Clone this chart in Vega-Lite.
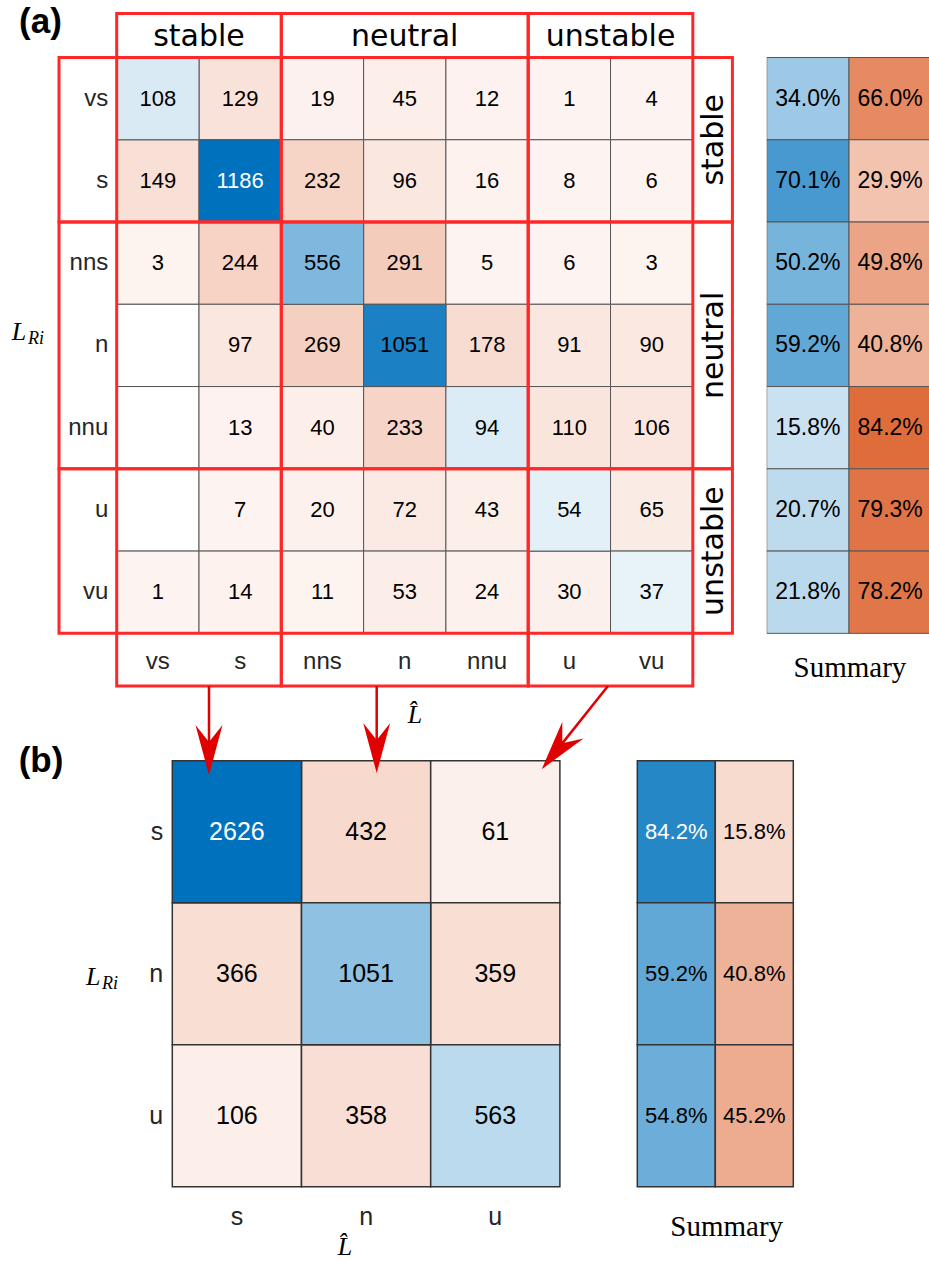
{
"$schema": "https://vega.github.io/schema/vega-lite/v6.json",
"padding": 0,
"background": "white",
"bounds": "flush",
"align": "none",
"columns": 2,
"spacing": {"row": 0, "column": 21.7},
"config": {"view": {"stroke": null}},
"datasets": {
"cellsA": [
{"i":0,"j":0,"count":108},{"i":0,"j":1,"count":129},{"i":0,"j":2,"count":19},{"i":0,"j":3,"count":45},{"i":0,"j":4,"count":12},{"i":0,"j":5,"count":1},{"i":0,"j":6,"count":4},
{"i":1,"j":0,"count":149},{"i":1,"j":1,"count":1186},{"i":1,"j":2,"count":232},{"i":1,"j":3,"count":96},{"i":1,"j":4,"count":16},{"i":1,"j":5,"count":8},{"i":1,"j":6,"count":6},
{"i":2,"j":0,"count":3},{"i":2,"j":1,"count":244},{"i":2,"j":2,"count":556},{"i":2,"j":3,"count":291},{"i":2,"j":4,"count":5},{"i":2,"j":5,"count":6},{"i":2,"j":6,"count":3},
{"i":3,"j":0,"count":0},{"i":3,"j":1,"count":97},{"i":3,"j":2,"count":269},{"i":3,"j":3,"count":1051},{"i":3,"j":4,"count":178},{"i":3,"j":5,"count":91},{"i":3,"j":6,"count":90},
{"i":4,"j":0,"count":0},{"i":4,"j":1,"count":13},{"i":4,"j":2,"count":40},{"i":4,"j":3,"count":233},{"i":4,"j":4,"count":94},{"i":4,"j":5,"count":110},{"i":4,"j":6,"count":106},
{"i":5,"j":0,"count":0},{"i":5,"j":1,"count":7},{"i":5,"j":2,"count":20},{"i":5,"j":3,"count":72},{"i":5,"j":4,"count":43},{"i":5,"j":5,"count":54},{"i":5,"j":6,"count":65},
{"i":6,"j":0,"count":1},{"i":6,"j":1,"count":14},{"i":6,"j":2,"count":11},{"i":6,"j":3,"count":53},{"i":6,"j":4,"count":24},{"i":6,"j":5,"count":30},{"i":6,"j":6,"count":37}
],
"sumA": [
{"i":0,"k":0,"p":0.340},{"i":0,"k":1,"p":0.660},
{"i":1,"k":0,"p":0.701},{"i":1,"k":1,"p":0.299},
{"i":2,"k":0,"p":0.502},{"i":2,"k":1,"p":0.498},
{"i":3,"k":0,"p":0.592},{"i":3,"k":1,"p":0.408},
{"i":4,"k":0,"p":0.158},{"i":4,"k":1,"p":0.842},
{"i":5,"k":0,"p":0.207},{"i":5,"k":1,"p":0.793},
{"i":6,"k":0,"p":0.218},{"i":6,"k":1,"p":0.782}
],
"labA": [{"lab":"vs","k":0},{"lab":"s","k":1},{"lab":"nns","k":2},{"lab":"n","k":3},{"lab":"nnu","k":4},{"lab":"u","k":5},{"lab":"vu","k":6}],
"groups": [{"g":"stable","lo":-0.5,"hi":1.5,"mid":0.5},{"g":"neutral","lo":1.5,"hi":4.5,"mid":3},{"g":"unstable","lo":4.5,"hi":6.5,"mid":5.5}],
"cellsB": [
{"i":0,"j":0,"count":2626},{"i":0,"j":1,"count":432},{"i":0,"j":2,"count":61},
{"i":1,"j":0,"count":366},{"i":1,"j":1,"count":1051},{"i":1,"j":2,"count":359},
{"i":2,"j":0,"count":106},{"i":2,"j":1,"count":358},{"i":2,"j":2,"count":563}
],
"sumB": [
{"i":0,"k":0,"p":0.842},{"i":0,"k":1,"p":0.158},
{"i":1,"k":0,"p":0.592},{"i":1,"k":1,"p":0.408},
{"i":2,"k":0,"p":0.548},{"i":2,"k":1,"p":0.452}
],
"labB": [{"lab":"s","k":0},{"lab":"n","k":1},{"lab":"u","k":2}],
"arrows": [
{"sx":-0.216,"sy":-1.026,"hx":-0.216,"hy":-0.575,"ang":0},
{"sx":1.082,"sy":-1.026,"hx":1.082,"hy":-0.589,"ang":0},
{"sx":2.872,"sy":-1.026,"hx":2.48,"hy":-0.578,"ang":38.5}
]
},
"concat": [
{"width": 745, "height": 686,
 "resolve": {"scale": {"fill": "independent"}},
 "layer": [
  {"data": {"name": "cellsA"}, "transform": [{"filter": "datum.i != datum.j"}],
   "mark": {"type": "rect", "width": 82.3, "height": 82.26, "stroke": "#555555", "strokeWidth": 1},
   "encoding": {
    "x": {"field": "j", "type": "quantitative", "scale": {"domain": [-1.918, 7.134], "nice": false, "zero": false}, "axis": null},
    "y": {"field": "i", "type": "quantitative", "scale": {"domain": [-1.199, 7.14], "nice": false, "zero": false, "reverse": true}, "axis": null},
    "fill": {"condition": {"test": "datum.count == 0", "value": "#ffffff"}, "field": "count", "type": "quantitative", "scale": {"domain": [0, 1186], "range": ["#fdf4f1", "#d95319"], "interpolate": "rgb"}, "legend": null}}},
  {"data": {"name": "cellsA"}, "transform": [{"filter": "datum.i == datum.j"}],
   "mark": {"type": "rect", "width": 82.3, "height": 82.26, "stroke": "#555555", "strokeWidth": 1},
   "encoding": {
    "x": {"field": "j", "type": "quantitative", "scale": {"domain": [-1.918, 7.134], "nice": false, "zero": false}, "axis": null},
    "y": {"field": "i", "type": "quantitative", "scale": {"domain": [-1.199, 7.14], "nice": false, "zero": false, "reverse": true}, "axis": null},
    "fill": {"field": "count", "type": "quantitative", "scale": {"domain": [0, 1186], "range": ["#eff6fb", "#0072bd"], "interpolate": "rgb"}, "legend": null}}},
  {"data": {"name": "cellsA"}, "transform": [{"filter": "datum.count > 0"}],
   "mark": {"type": "text", "font": "Liberation Sans", "fontSize": 22, "align": "center", "baseline": "middle"},
   "encoding": {
    "x": {"field": "j", "type": "quantitative", "scale": {"domain": [-1.918, 7.134], "nice": false, "zero": false}, "axis": null},
    "y": {"field": "i", "type": "quantitative", "scale": {"domain": [-1.199, 7.14], "nice": false, "zero": false, "reverse": true}, "axis": null},
    "text": {"field": "count", "type": "quantitative", "format": "d"},
    "color": {"condition": {"test": "datum.count >= 1100", "value": "#ffffff"}, "value": "#000000"}}},
  {"data": {"name": "labA"},
   "mark": {"type": "text", "font": "Liberation Sans", "fontSize": 24, "align": "right", "baseline": "middle", "color": "#262626"},
   "encoding": {
    "x": {"datum": -0.602, "type": "quantitative", "scale": {"domain": [-1.918, 7.134], "nice": false, "zero": false}, "axis": null},
    "y": {"field": "k", "type": "quantitative", "scale": {"domain": [-1.199, 7.14], "nice": false, "zero": false, "reverse": true}, "axis": null},
    "text": {"field": "lab"}}},
  {"data": {"name": "labA"},
   "mark": {"type": "text", "font": "Liberation Sans", "fontSize": 24, "align": "center", "baseline": "middle", "color": "#262626"},
   "encoding": {
    "x": {"field": "k", "type": "quantitative", "scale": {"domain": [-1.918, 7.134], "nice": false, "zero": false}, "axis": null},
    "y": {"datum": 6.845, "type": "quantitative", "scale": {"domain": [-1.199, 7.14], "nice": false, "zero": false, "reverse": true}, "axis": null},
    "text": {"field": "lab"}}},
  {"data": {"name": "groups"},
   "mark": {"type": "rect", "filled": false, "stroke": "#ff2828", "strokeWidth": 3},
   "encoding": {
    "x": {"field": "lo", "type": "quantitative", "scale": {"domain": [-1.918, 7.134], "nice": false, "zero": false}, "axis": null},
    "x2": {"field": "hi"},
    "y": {"datum": -1.035, "type": "quantitative", "scale": {"domain": [-1.199, 7.14], "nice": false, "zero": false, "reverse": true}, "axis": null},
    "y2": {"datum": 7.14}}},
  {"data": {"name": "groups"},
   "mark": {"type": "rect", "filled": false, "stroke": "#ff2828", "strokeWidth": 3},
   "encoding": {
    "x": {"datum": -1.201, "type": "quantitative", "scale": {"domain": [-1.918, 7.134], "nice": false, "zero": false}, "axis": null},
    "x2": {"datum": 6.981},
    "y": {"field": "lo", "type": "quantitative", "scale": {"domain": [-1.199, 7.14], "nice": false, "zero": false, "reverse": true}, "axis": null},
    "y2": {"field": "hi"}}},
  {"data": {"name": "groups"},
   "mark": {"type": "text", "font": "DejaVu Sans", "fontSize": 30, "align": "center", "baseline": "alphabetic", "color": "#000000"},
   "encoding": {
    "x": {"field": "mid", "type": "quantitative", "scale": {"domain": [-1.918, 7.134], "nice": false, "zero": false}, "axis": null},
    "y": {"datum": -0.64, "type": "quantitative", "scale": {"domain": [-1.199, 7.14], "nice": false, "zero": false, "reverse": true}, "axis": null},
    "text": {"field": "g"}}},
  {"data": {"name": "groups"},
   "mark": {"type": "text", "font": "DejaVu Sans", "fontSize": 30, "align": "center", "baseline": "alphabetic", "angle": 270, "color": "#000000"},
   "encoding": {
    "x": {"datum": 6.87, "type": "quantitative", "scale": {"domain": [-1.918, 7.134], "nice": false, "zero": false}, "axis": null},
    "y": {"field": "mid", "type": "quantitative", "scale": {"domain": [-1.199, 7.14], "nice": false, "zero": false, "reverse": true}, "axis": null},
    "text": {"field": "g"}}},
  {"data": {"values": [{"t": "(a)"}]},
   "mark": {"type": "text", "font": "Liberation Sans", "fontWeight": "bold", "fontSize": 35, "align": "center", "baseline": "alphabetic", "color": "#000000"},
   "encoding": {
    "x": {"datum": -1.426, "type": "quantitative", "scale": {"domain": [-1.918, 7.134], "nice": false, "zero": false}, "axis": null},
    "y": {"datum": -0.798, "type": "quantitative", "scale": {"domain": [-1.199, 7.14], "nice": false, "zero": false, "reverse": true}, "axis": null},
    "text": {"field": "t"}}},
  {"data": {"values": [{"t": "L"}]},
   "mark": {"type": "text", "font": "Liberation Serif", "fontStyle": "italic", "fontSize": 26, "align": "left", "baseline": "alphabetic", "color": "#000000"},
   "encoding": {
    "x": {"datum": -1.776, "type": "quantitative", "scale": {"domain": [-1.918, 7.134], "nice": false, "zero": false}, "axis": null},
    "y": {"datum": 2.934, "type": "quantitative", "scale": {"domain": [-1.199, 7.14], "nice": false, "zero": false, "reverse": true}, "axis": null},
    "text": {"field": "t"}}},
  {"data": {"values": [{"t": "Ri"}]},
   "mark": {"type": "text", "font": "Liberation Serif", "fontStyle": "italic", "fontSize": 18, "align": "left", "baseline": "alphabetic", "color": "#000000"},
   "encoding": {
    "x": {"datum": -1.578, "type": "quantitative", "scale": {"domain": [-1.918, 7.134], "nice": false, "zero": false}, "axis": null},
    "y": {"datum": 2.983, "type": "quantitative", "scale": {"domain": [-1.199, 7.14], "nice": false, "zero": false, "reverse": true}, "axis": null},
    "text": {"field": "t"}}},
  {"data": {"values": [{"t": "L̂"}]},
   "mark": {"type": "text", "font": "Liberation Serif", "fontStyle": "italic", "fontSize": 26, "align": "center", "baseline": "alphabetic", "color": "#000000"},
   "encoding": {
    "x": {"datum": 3.125, "type": "quantitative", "scale": {"domain": [-1.918, 7.134], "nice": false, "zero": false}, "axis": null},
    "y": {"datum": 7.59, "type": "quantitative", "scale": {"domain": [-1.199, 7.14], "nice": false, "zero": false, "reverse": true}, "axis": null},
    "text": {"field": "t"}}}
 ]},
{"width": 162.3, "height": 686,
 "resolve": {"scale": {"fill": "independent"}},
 "layer": [
  {"data": {"name": "sumA"}, "transform": [{"filter": "datum.k == 0"}],
   "mark": {"type": "rect", "width": 82.3, "height": 82.26, "stroke": "#555555", "strokeWidth": 1, "clip": true},
   "encoding": {
    "x": {"field": "k", "type": "quantitative", "scale": {"domain": [-0.5, 1.472], "nice": false, "zero": false}, "axis": null},
    "y": {"field": "i", "type": "quantitative", "scale": {"domain": [-1.199, 7.14], "nice": false, "zero": false, "reverse": true}, "axis": null},
    "fill": {"field": "p", "type": "quantitative", "scale": {"domain": [0, 1], "range": ["#eff6fb", "#0072bd"], "interpolate": "rgb"}, "legend": null}}},
  {"data": {"name": "sumA"}, "transform": [{"filter": "datum.k == 1"}],
   "mark": {"type": "rect", "width": 82.3, "height": 82.26, "stroke": "#555555", "strokeWidth": 1, "clip": true},
   "encoding": {
    "x": {"field": "k", "type": "quantitative", "scale": {"domain": [-0.5, 1.472], "nice": false, "zero": false}, "axis": null},
    "y": {"field": "i", "type": "quantitative", "scale": {"domain": [-1.199, 7.14], "nice": false, "zero": false, "reverse": true}, "axis": null},
    "fill": {"field": "p", "type": "quantitative", "scale": {"domain": [0, 1], "range": ["#fdf4f1", "#d95319"], "interpolate": "rgb"}, "legend": null}}},
  {"data": {"name": "sumA"},
   "mark": {"type": "text", "font": "Liberation Sans", "fontSize": 23, "align": "center", "baseline": "middle", "color": "#000000"},
   "encoding": {
    "x": {"field": "k", "type": "quantitative", "scale": {"domain": [-0.5, 1.472], "nice": false, "zero": false}, "axis": null},
    "y": {"field": "i", "type": "quantitative", "scale": {"domain": [-1.199, 7.14], "nice": false, "zero": false, "reverse": true}, "axis": null},
    "text": {"field": "p", "type": "quantitative", "format": ".1%"}}},
  {"data": {"values": [{"t": "Summary"}]},
   "mark": {"type": "text", "font": "Liberation Serif", "fontSize": 29, "align": "center", "baseline": "middle", "color": "#000000"},
   "encoding": {
    "x": {"datum": 0.512, "type": "quantitative", "scale": {"domain": [-0.5, 1.472], "nice": false, "zero": false}, "axis": null},
    "y": {"datum": 6.918, "type": "quantitative", "scale": {"domain": [-1.199, 7.14], "nice": false, "zero": false, "reverse": true}, "axis": null},
    "text": {"field": "t"}}}
 ]},
{"width": 745, "height": 575,
 "resolve": {"scale": {"fill": "independent", "x": "independent"}},
 "layer": [
  {"data": {"name": "cellsB"}, "transform": [{"filter": "datum.i != datum.j"}],
   "mark": {"type": "rect", "width": 129.2, "height": 142, "stroke": "#333333", "strokeWidth": 1.5},
   "encoding": {
    "x": {"field": "j", "type": "quantitative", "scale": {"domain": [-1.8336, 3.9327], "nice": false, "zero": false}, "axis": null},
    "y": {"field": "i", "type": "quantitative", "scale": {"domain": [-1.026, 3.023], "nice": false, "zero": false, "reverse": true}, "axis": null},
    "fill": {"field": "count", "type": "quantitative", "scale": {"domain": [0, 2626], "range": ["#fdf4f1", "#d95319"], "interpolate": "rgb"}, "legend": null}}},
  {"data": {"name": "cellsB"}, "transform": [{"filter": "datum.i == datum.j"}],
   "mark": {"type": "rect", "width": 129.2, "height": 142, "stroke": "#333333", "strokeWidth": 1.5},
   "encoding": {
    "x": {"field": "j", "type": "quantitative", "scale": {"domain": [-1.8336, 3.9327], "nice": false, "zero": false}, "axis": null},
    "y": {"field": "i", "type": "quantitative", "scale": {"domain": [-1.026, 3.023], "nice": false, "zero": false, "reverse": true}, "axis": null},
    "fill": {"field": "count", "type": "quantitative", "scale": {"domain": [0, 2626], "range": ["#eff6fb", "#0072bd"], "interpolate": "rgb"}, "legend": null}}},
  {"data": {"name": "cellsB"},
   "mark": {"type": "text", "font": "Liberation Sans", "fontSize": 25, "align": "center", "baseline": "middle"},
   "encoding": {
    "x": {"field": "j", "type": "quantitative", "scale": {"domain": [-1.8336, 3.9327], "nice": false, "zero": false}, "axis": null},
    "y": {"field": "i", "type": "quantitative", "scale": {"domain": [-1.026, 3.023], "nice": false, "zero": false, "reverse": true}, "axis": null},
    "text": {"field": "count", "type": "quantitative", "format": "d"},
    "color": {"condition": {"test": "datum.count >= 2000", "value": "#ffffff"}, "value": "#000000"}}},
  {"data": {"name": "labB"},
   "mark": {"type": "text", "font": "Liberation Sans", "fontSize": 25, "align": "right", "baseline": "middle", "color": "#262626"},
   "encoding": {
    "x": {"datum": -0.57, "type": "quantitative", "scale": {"domain": [-1.8336, 3.9327], "nice": false, "zero": false}, "axis": null},
    "y": {"field": "k", "type": "quantitative", "scale": {"domain": [-1.026, 3.023], "nice": false, "zero": false, "reverse": true}, "axis": null},
    "text": {"field": "lab"}}},
  {"data": {"name": "labB"},
   "mark": {"type": "text", "font": "Liberation Sans", "fontSize": 25, "align": "center", "baseline": "middle", "color": "#262626"},
   "encoding": {
    "x": {"field": "k", "type": "quantitative", "scale": {"domain": [-1.8336, 3.9327], "nice": false, "zero": false}, "axis": null},
    "y": {"datum": 2.711, "type": "quantitative", "scale": {"domain": [-1.026, 3.023], "nice": false, "zero": false, "reverse": true}, "axis": null},
    "text": {"field": "lab"}}},
  {"data": {"values": [{"t": "(b)"}]},
   "mark": {"type": "text", "font": "Liberation Sans", "fontWeight": "bold", "fontSize": 35, "align": "center", "baseline": "alphabetic", "color": "#000000"},
   "encoding": {
    "x": {"datum": -1.516, "type": "quantitative", "scale": {"domain": [-1.8336, 3.9327], "nice": false, "zero": false}, "axis": null},
    "y": {"datum": -0.4225, "type": "quantitative", "scale": {"domain": [-1.026, 3.023], "nice": false, "zero": false, "reverse": true}, "axis": null},
    "text": {"field": "t"}}},
  {"data": {"values": [{"t": "L"}]},
   "mark": {"type": "text", "font": "Liberation Serif", "fontStyle": "italic", "fontSize": 26, "align": "left", "baseline": "alphabetic", "color": "#000000"},
   "encoding": {
    "x": {"datum": -1.168, "type": "quantitative", "scale": {"domain": [-1.8336, 3.9327], "nice": false, "zero": false}, "axis": null},
    "y": {"datum": 1.0796, "type": "quantitative", "scale": {"domain": [-1.026, 3.023], "nice": false, "zero": false, "reverse": true}, "axis": null},
    "text": {"field": "t"}}},
  {"data": {"values": [{"t": "Ri"}]},
   "mark": {"type": "text", "font": "Liberation Serif", "fontStyle": "italic", "fontSize": 18, "align": "left", "baseline": "alphabetic", "color": "#000000"},
   "encoding": {
    "x": {"datum": -1.044, "type": "quantitative", "scale": {"domain": [-1.8336, 3.9327], "nice": false, "zero": false}, "axis": null},
    "y": {"datum": 1.108, "type": "quantitative", "scale": {"domain": [-1.026, 3.023], "nice": false, "zero": false, "reverse": true}, "axis": null},
    "text": {"field": "t"}}},
  {"data": {"values": [{"t": "L̂"}]},
   "mark": {"type": "text", "font": "Liberation Serif", "fontStyle": "italic", "fontSize": 26, "align": "center", "baseline": "alphabetic", "color": "#000000"},
   "encoding": {
    "x": {"datum": 0.837, "type": "quantitative", "scale": {"domain": [-1.8336, 3.9327], "nice": false, "zero": false}, "axis": null},
    "y": {"datum": 2.981, "type": "quantitative", "scale": {"domain": [-1.026, 3.023], "nice": false, "zero": false, "reverse": true}, "axis": null},
    "text": {"field": "t"}}},
  {"data": {"name": "sumB"}, "transform": [{"filter": "datum.k == 0"}],
   "mark": {"type": "rect", "width": 78, "height": 142, "stroke": "#333333", "strokeWidth": 1.5},
   "encoding": {
    "x": {"field": "k", "type": "quantitative", "scale": {"domain": [-8.6705, 0.8808], "nice": false, "zero": false}, "axis": null},
    "y": {"field": "i", "type": "quantitative", "scale": {"domain": [-1.026, 3.023], "nice": false, "zero": false, "reverse": true}, "axis": null},
    "fill": {"field": "p", "type": "quantitative", "scale": {"domain": [0, 1], "range": ["#eff6fb", "#0072bd"], "interpolate": "rgb"}, "legend": null}}},
  {"data": {"name": "sumB"}, "transform": [{"filter": "datum.k == 1"}],
   "mark": {"type": "rect", "width": 78, "height": 142, "stroke": "#333333", "strokeWidth": 1.5},
   "encoding": {
    "x": {"field": "k", "type": "quantitative", "scale": {"domain": [-8.6705, 0.8808], "nice": false, "zero": false}, "axis": null},
    "y": {"field": "i", "type": "quantitative", "scale": {"domain": [-1.026, 3.023], "nice": false, "zero": false, "reverse": true}, "axis": null},
    "fill": {"field": "p", "type": "quantitative", "scale": {"domain": [0, 1], "range": ["#fdf4f1", "#d95319"], "interpolate": "rgb"}, "legend": null}}},
  {"data": {"name": "sumB"},
   "mark": {"type": "text", "font": "Liberation Sans", "fontSize": 22, "align": "center", "baseline": "middle"},
   "encoding": {
    "x": {"field": "k", "type": "quantitative", "scale": {"domain": [-8.6705, 0.8808], "nice": false, "zero": false}, "axis": null},
    "y": {"field": "i", "type": "quantitative", "scale": {"domain": [-1.026, 3.023], "nice": false, "zero": false, "reverse": true}, "axis": null},
    "text": {"field": "p", "type": "quantitative", "format": ".1%"},
    "color": {"condition": {"test": "datum.k == 0 && datum.p >= 0.8", "value": "#ffffff"}, "value": "#000000"}}},
  {"data": {"values": [{"t": "Summary"}]},
   "mark": {"type": "text", "font": "Liberation Serif", "fontSize": 29, "align": "center", "baseline": "middle", "color": "#000000"},
   "encoding": {
    "x": {"datum": 0.646, "type": "quantitative", "scale": {"domain": [-8.6705, 0.8808], "nice": false, "zero": false}, "axis": null},
    "y": {"datum": 2.782, "type": "quantitative", "scale": {"domain": [-1.026, 3.023], "nice": false, "zero": false, "reverse": true}, "axis": null},
    "text": {"field": "t"}}},
  {"data": {"name": "arrows"},
   "mark": {"type": "rule", "stroke": "#e00000", "strokeWidth": 2.5},
   "encoding": {
    "x": {"field": "sx", "type": "quantitative", "scale": {"domain": [-1.8336, 3.9327], "nice": false, "zero": false}, "axis": null},
    "y": {"field": "sy", "type": "quantitative", "scale": {"domain": [-1.026, 3.023], "nice": false, "zero": false, "reverse": true}, "axis": null},
    "x2": {"field": "hx"},
    "y2": {"field": "hy"}}},
  {"data": {"name": "arrows"},
   "mark": {"type": "point", "shape": "M0,1L-0.54,-1L0,-0.32L0.54,-1Z", "filled": true, "color": "#e00000", "opacity": 1, "size": 2500, "strokeWidth": 0},
   "encoding": {
    "x": {"field": "hx", "type": "quantitative", "scale": {"domain": [-1.8336, 3.9327], "nice": false, "zero": false}, "axis": null},
    "y": {"field": "hy", "type": "quantitative", "scale": {"domain": [-1.026, 3.023], "nice": false, "zero": false, "reverse": true}, "axis": null},
    "angle": {"field": "ang", "type": "quantitative", "scale": null}}}
 ]}
]
}
